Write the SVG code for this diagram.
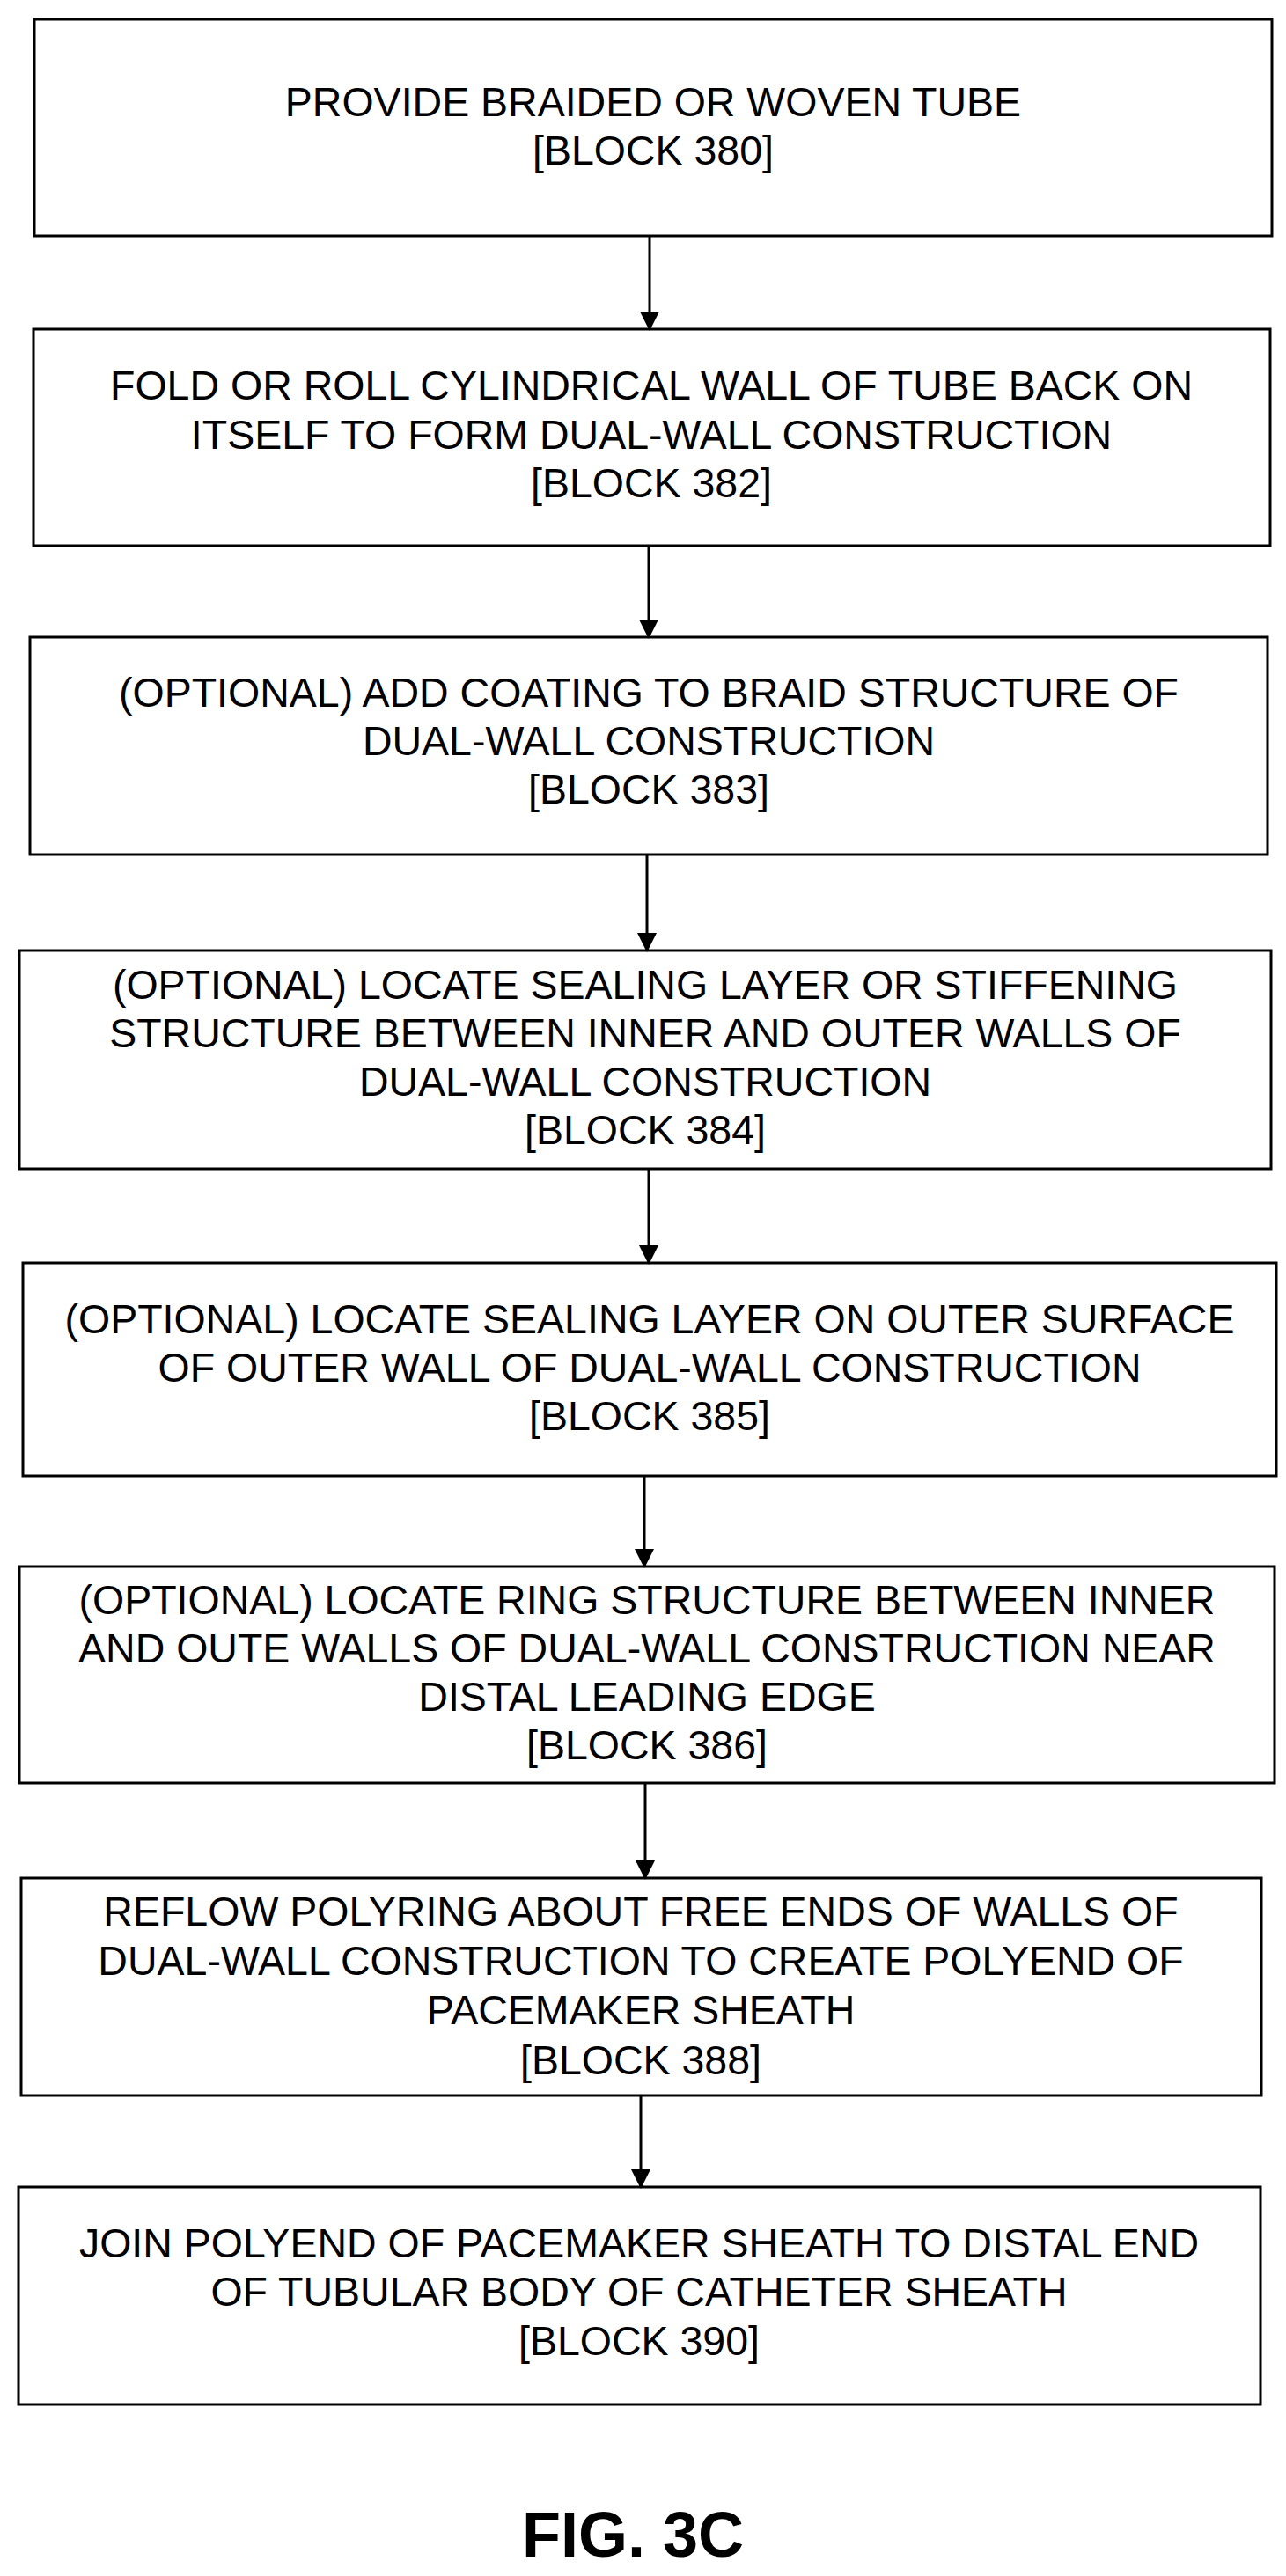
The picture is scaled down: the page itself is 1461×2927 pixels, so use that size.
<svg xmlns="http://www.w3.org/2000/svg" width="1461" height="2927" viewBox="0 0 1461 2927">
<style>
rect{fill:#fff;stroke:#000;stroke-width:3}
text{font-family:"Liberation Sans",Arial,sans-serif;font-size:46.5px;text-anchor:middle;fill:#000}
.c line{stroke:#000;stroke-width:3}
</style>
<defs><marker id="ah" markerUnits="userSpaceOnUse" markerWidth="22" markerHeight="30" refX="20" refY="11" orient="auto"><path d="M0,0 L22,11 L0,22 Z" fill="#000"/></marker></defs>
<rect width="1461" height="2927" style="stroke:none"/>
<g id="b380"><rect x="39" y="22" width="1406" height="246"/><text><tspan x="742" y="132">PROVIDE BRAIDED OR WOVEN TUBE</tspan><tspan x="742" y="187">[BLOCK 380]</tspan></text></g>
<g id="b382"><rect x="38" y="374" width="1405" height="246"/><text><tspan x="740" y="454">FOLD OR ROLL CYLINDRICAL WALL OF TUBE BACK ON</tspan><tspan x="740" y="510">ITSELF TO FORM DUAL-WALL CONSTRUCTION</tspan><tspan x="740" y="565">[BLOCK 382]</tspan></text></g>
<g id="b383"><rect x="34" y="724" width="1406" height="247"/><text><tspan x="737" y="803">(OPTIONAL) ADD COATING TO BRAID STRUCTURE OF</tspan><tspan x="737" y="858">DUAL-WALL CONSTRUCTION</tspan><tspan x="737" y="913">[BLOCK 383]</tspan></text></g>
<g id="b384"><rect x="22" y="1080" width="1422" height="248"/><text><tspan x="733" y="1135">(OPTIONAL) LOCATE SEALING LAYER OR STIFFENING</tspan><tspan x="733" y="1190">STRUCTURE BETWEEN INNER AND OUTER WALLS OF</tspan><tspan x="733" y="1245">DUAL-WALL CONSTRUCTION</tspan><tspan x="733" y="1300">[BLOCK 384]</tspan></text></g>
<g id="b385"><rect x="26" y="1435" width="1424" height="242"/><text><tspan x="738" y="1515">(OPTIONAL) LOCATE SEALING LAYER ON OUTER SURFACE</tspan><tspan x="738" y="1570">OF OUTER WALL OF DUAL-WALL CONSTRUCTION</tspan><tspan x="738" y="1625">[BLOCK 385]</tspan></text></g>
<g id="b386"><rect x="22" y="1780" width="1426" height="246"/><text><tspan x="735" y="1834">(OPTIONAL) LOCATE RING STRUCTURE BETWEEN INNER</tspan><tspan x="735" y="1889">AND OUTE WALLS OF DUAL-WALL CONSTRUCTION NEAR</tspan><tspan x="735" y="1944">DISTAL LEADING EDGE</tspan><tspan x="735" y="1999">[BLOCK 386]</tspan></text></g>
<g id="b388"><rect x="24" y="2134" width="1409" height="247"/><text><tspan x="728" y="2188">REFLOW POLYRING ABOUT FREE ENDS OF WALLS OF</tspan><tspan x="728" y="2244">DUAL-WALL CONSTRUCTION TO CREATE POLYEND OF</tspan><tspan x="728" y="2300">PACEMAKER SHEATH</tspan><tspan x="728" y="2357">[BLOCK 388]</tspan></text></g>
<g id="b390"><rect x="21" y="2485" width="1411" height="247"/><text><tspan x="726" y="2565">JOIN POLYEND OF PACEMAKER SHEATH TO DISTAL END</tspan><tspan x="726" y="2620">OF TUBULAR BODY OF CATHETER SHEATH</tspan><tspan x="726" y="2676">[BLOCK 390]</tspan></text></g>
<g class="c">
<line x1="738" y1="268" x2="738" y2="374" marker-end="url(#ah)"/>
<line x1="737" y1="620" x2="737" y2="724" marker-end="url(#ah)"/>
<line x1="735" y1="971" x2="735" y2="1080" marker-end="url(#ah)"/>
<line x1="737" y1="1328" x2="737" y2="1435" marker-end="url(#ah)"/>
<line x1="732" y1="1677" x2="732" y2="1780" marker-end="url(#ah)"/>
<line x1="733" y1="2026" x2="733" y2="2134" marker-end="url(#ah)"/>
<line x1="728" y1="2381" x2="728" y2="2485" marker-end="url(#ah)"/>
</g>
<text x="719" y="2905" style="font-size:72px;font-weight:bold">FIG. 3C</text>
</svg>
